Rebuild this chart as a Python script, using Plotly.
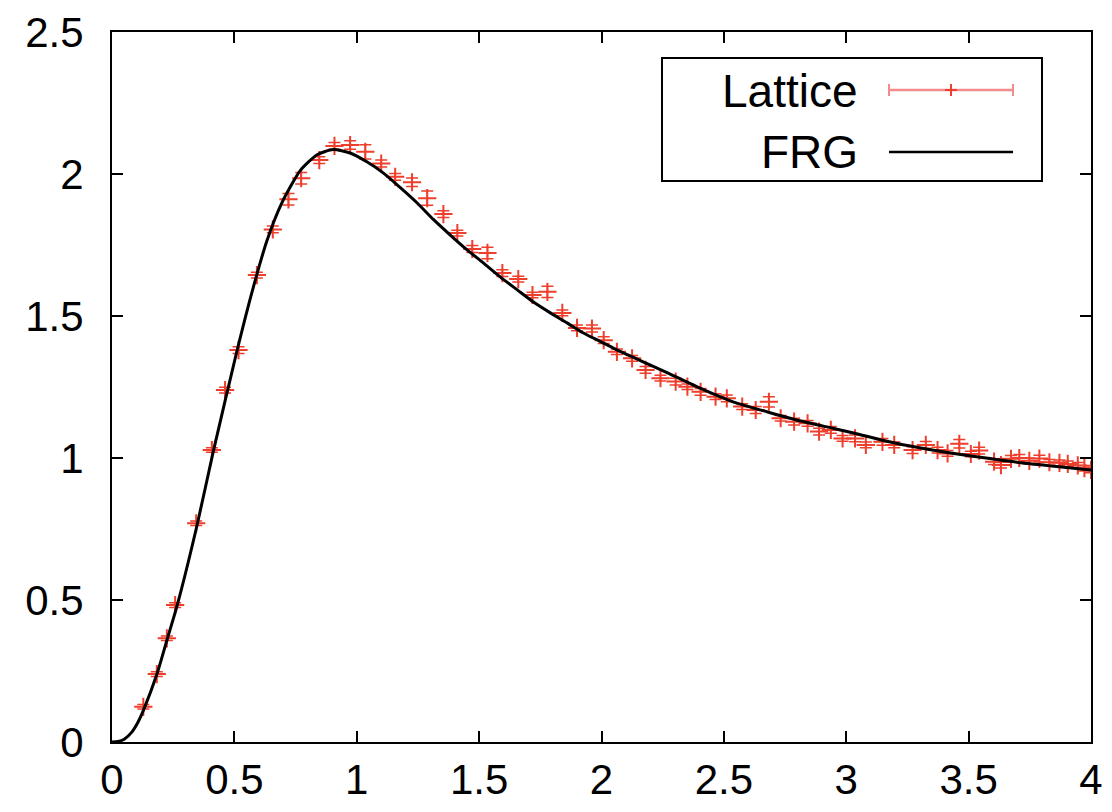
import plotly.graph_objects as go

# ---- Lattice data ----
lat_x = [0.128, 0.183, 0.224, 0.258, 0.344, 0.408, 0.462, 0.517, 0.592, 0.657,
         0.721, 0.773, 0.847, 0.909, 0.973, 1.035, 1.100, 1.157, 1.226, 1.288,
         1.354, 1.411, 1.472, 1.534, 1.595, 1.660, 1.718, 1.779, 1.840, 1.900,
         1.961, 2.009, 2.063, 2.125, 2.180, 2.241, 2.303, 2.351, 2.405, 2.466,
         2.512, 2.575, 2.630, 2.684, 2.732, 2.787, 2.842, 2.889, 2.937, 2.985,
         3.036, 3.080, 3.148, 3.196, 3.271, 3.325, 3.373, 3.414, 3.462, 3.509,
         3.543, 3.604, 3.632, 3.673, 3.707, 3.748, 3.789, 3.830, 3.871, 3.905,
         3.946, 3.973, 4.000]
lat_y = [0.124, 0.239, 0.365, 0.482, 0.770, 1.028, 1.239, 1.380, 1.644, 1.805,
         1.911, 1.985, 2.049, 2.099, 2.102, 2.078, 2.037, 1.990, 1.971, 1.915,
         1.859, 1.792, 1.736, 1.722, 1.651, 1.630, 1.574, 1.585, 1.511, 1.458,
         1.456, 1.415, 1.374, 1.351, 1.310, 1.281, 1.269, 1.251, 1.233, 1.216,
         1.210, 1.181, 1.169, 1.198, 1.140, 1.128, 1.122, 1.093, 1.099, 1.069,
         1.069, 1.046, 1.057, 1.046, 1.028, 1.046, 1.028, 1.016, 1.050, 1.014,
         1.026, 0.987, 0.975, 0.997, 1.000, 0.990, 0.998, 0.985, 0.983, 0.979,
         0.974, 0.964, 0.958]
lat_err = [0.008, 0.008, 0.008, 0.008, 0.008, 0.008, 0.010, 0.012, 0.010, 0.012,
           0.020, 0.020, 0.012, 0.012, 0.015, 0.025, 0.012, 0.012, 0.015, 0.025,
           0.012, 0.010, 0.012, 0.020, 0.012, 0.010, 0.010, 0.020, 0.010, 0.010,
           0.012, 0.012, 0.010, 0.010, 0.012, 0.010, 0.012, 0.010, 0.012, 0.010,
           0.012, 0.010, 0.012, 0.018, 0.010, 0.012, 0.010, 0.012, 0.012, 0.010,
           0.012, 0.010, 0.012, 0.010, 0.012, 0.012, 0.010, 0.010, 0.015, 0.010,
           0.012, 0.010, 0.010, 0.012, 0.012, 0.010, 0.012, 0.010, 0.010, 0.010,
           0.010, 0.010, 0.010]

# ---- FRG curve ----
frg_x = [0.0, 0.025, 0.05, 0.08, 0.105, 0.13, 0.184, 0.225, 0.266, 0.348,
         0.413, 0.51, 0.577, 0.633, 0.695, 0.769, 0.838, 0.904, 0.973, 1.043,
         1.108, 1.178, 1.247, 1.313, 1.382, 1.452, 1.517, 1.587, 1.656, 1.722,
         1.791, 1.861, 1.926, 1.996, 2.065, 2.131, 2.2, 2.27, 2.405, 2.54,
         2.679, 2.814, 2.949, 3.03, 3.17, 3.305, 3.44, 3.579, 3.714, 3.849, 4.0]
frg_y = [0.0, 0.002, 0.010, 0.034, 0.068, 0.115, 0.240, 0.360, 0.480, 0.765,
         1.020, 1.375, 1.600, 1.765, 1.900, 2.012, 2.068, 2.086, 2.074, 2.042,
         2.004, 1.952, 1.898, 1.840, 1.785, 1.732, 1.687, 1.637, 1.592, 1.549,
         1.511, 1.475, 1.440, 1.410, 1.380, 1.354, 1.327, 1.300, 1.245, 1.197,
         1.162, 1.130, 1.104, 1.088, 1.058, 1.035, 1.016, 0.999, 0.983, 0.971, 0.958]

x_ticks = [0, 0.5, 1, 1.5, 2, 2.5, 3, 3.5, 4]
x_tick_text = ["0", "0.5", "1", "1.5", "2", "2.5", "3", "3.5", "4"]
y_ticks = [0, 0.5, 1, 1.5, 2, 2.5]
y_tick_text = ["0", "0.5", "1", "1.5", "2", "2.5"]

RED = "rgb(238,62,44)"
LEG_RED = "rgb(242,140,140)"
FONT = "Liberation Sans, Arial, sans-serif"

fig = go.Figure()
fig.add_trace(go.Scatter(
    x=lat_x, y=lat_y, mode="markers", name="Lattice",
    marker=dict(symbol="cross-thin", size=13, color=RED,
                line=dict(color=RED, width=2)),
    error_y=dict(type="data", array=lat_err, visible=True, color=RED,
                 thickness=1.5, width=6),
    showlegend=False,
))
fig.add_trace(go.Scatter(
    x=frg_x, y=frg_y, mode="lines", name="FRG",
    line=dict(color="black", width=3, shape="spline", smoothing=0.6),
    showlegend=False,
))

# Plot area in pixels: left 112, right 1091, top 32, bottom 742
L, R, T, B = 112, 1091, 32, 742
def px(xp):
    return (xp - L) / (R - L)
def py(yp):
    return (B - yp) / (B - T)

shapes = [
    dict(type="rect", xref="paper", yref="paper",
         x0=px(662), x1=px(1042), y0=py(181), y1=py(58),
         line=dict(color="black", width=2), fillcolor="white", layer="above"),
    dict(type="line", xref="paper", yref="paper",
         x0=px(889), x1=px(1013), y0=py(90), y1=py(90),
         line=dict(color=LEG_RED, width=2.5), layer="above"),
    dict(type="line", xref="paper", yref="paper",
         x0=px(889), x1=px(889), y0=py(84), y1=py(96),
         line=dict(color=LEG_RED, width=2), layer="above"),
    dict(type="line", xref="paper", yref="paper",
         x0=px(1013), x1=px(1013), y0=py(84), y1=py(96),
         line=dict(color=LEG_RED, width=2), layer="above"),
    dict(type="line", xref="paper", yref="paper",
         x0=px(951), x1=px(951), y0=py(84), y1=py(96),
         line=dict(color=RED, width=2), layer="above"),
    dict(type="line", xref="paper", yref="paper",
         x0=px(945), x1=px(957), y0=py(90), y1=py(90),
         line=dict(color=RED, width=2), layer="above"),
    dict(type="line", xref="paper", yref="paper",
         x0=px(889), x1=px(1013), y0=py(152), y1=py(152),
         line=dict(color="black", width=2.5), layer="above"),
]

annotations = [
    dict(xref="paper", yref="paper", x=px(860), y=py(91), text="Lattice",
         showarrow=False, xanchor="right", yanchor="middle",
         font=dict(family=FONT, size=46, color="black")),
    dict(xref="paper", yref="paper", x=px(860), y=py(152), text="FRG",
         showarrow=False, xanchor="right", yanchor="middle",
         font=dict(family=FONT, size=46, color="black")),
]

axis_common = dict(
    showline=True, linecolor="black", linewidth=2, mirror="allticks",
    ticks="inside", ticklen=11, tickwidth=2, tickcolor="black",
    showgrid=False, zeroline=False, automargin=False,
    tickfont=dict(family=FONT, size=42, color="black"),
)

fig.update_layout(
    width=1112, height=812, autosize=False,
    margin=dict(l=L, r=1112 - R, t=T, b=812 - B, pad=0),
    paper_bgcolor="white", plot_bgcolor="white",
    xaxis=dict(range=[0, 4], tickvals=x_ticks, ticktext=x_tick_text,
               ticklabelstandoff=0, **axis_common),
    yaxis=dict(range=[0, 2.5], tickvals=y_ticks, ticktext=y_tick_text,
               ticklabelstandoff=18, **axis_common),
    shapes=shapes,
    annotations=annotations,
)

fig.write_html("out.html", config={"displayModeBar": False},
               post_script="document.body.style.margin='0';document.body.style.padding='0';")
